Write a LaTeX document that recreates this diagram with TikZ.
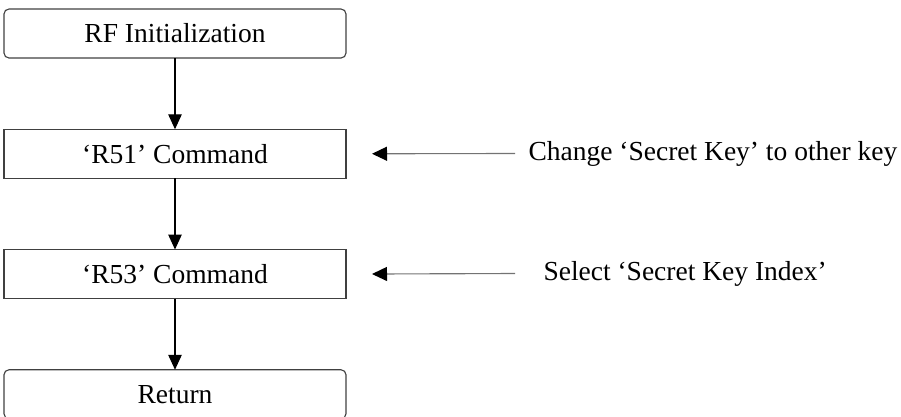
\documentclass[tikz,border=0pt]{standalone}
\usepackage{fontspec}
\setmainfont{Liberation Serif}
\usepackage{tikz}
\usetikzlibrary{positioning, arrows.meta}

\begin{document}
\begin{tikzpicture}[x=0.4pt, y=-0.4pt, node distance=28.5pt,
	font=\fontsize{11}{13}\selectfont,
	stepbox/.style={draw=black!75, line width=0.45pt, minimum width=136.8pt, minimum height=19.6pt, inner sep=0pt, outer sep=0pt, text centered},
	endbox/.style={stepbox, rounded corners=2pt},
	note/.style={anchor=west, inner sep=0pt},
	flow/.style={-{Triangle[length=6pt, width=5.4pt]}, line width=0.45pt},
	hint/.style={-{Triangle[length=6pt, width=5.6pt, color=black]}, line width=0.45pt, draw=black!55}]

		\useasboundingbox (0,0) rectangle (901,416);

		% nodes - flow chart %
		\node[endbox] (init) at (175,33.5) {RF Initialization};
		\node[stepbox, below = of init] (r51) {`R51' Command};
		\node[stepbox, below = of r51] (r53) {`R53' Command};
		\node[endbox, below = of r53] (ret) {Return};

		% nodes - side notes %
		\node[note] (chgkey) at (528,153.5) {Change `Secret Key' to other key};
		\node[note] (selidx) at (543,273.5) {Select `Secret Key Index'};

		% edges %
		\draw[flow] (init) -- (r51);
		\draw[flow] (r51) -- (r53);
		\draw[flow] (r53) -- (ret);
		\draw[hint] ([xshift=-5.2pt]chgkey.west) -- ([xshift=10.4pt]r51.east);
		\draw[hint] ([xshift=-11.2pt]selidx.west) -- ([xshift=10.4pt]r53.east);

\end{tikzpicture}
\end{document}
